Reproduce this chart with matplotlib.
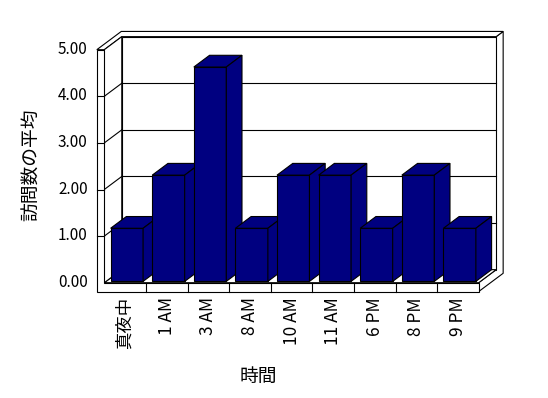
import matplotlib
matplotlib.use('Agg')
import matplotlib.pyplot as plt
from matplotlib.patches import Polygon

plt.rcParams['font.family'] = ['Noto Sans CJK JP', 'DejaVu Sans']

categories = ['真夜中', '1 AM', '3 AM', '8 AM', '10 AM', '11 AM', '6 PM', '8 PM', '9 PM']
visits_avg = [1.14, 2.28, 4.60, 1.14, 2.28, 2.28, 1.14, 2.28, 1.14]
y_ticks = [0, 1, 2, 3, 4, 5]
y_ticklabels = ['0.00', '1.00', '2.00', '3.00', '4.00', '5.00']

NAVY = '#000080'
# oblique "3D": shift for one full depth unit, in (category, value) units
DX, DY = 0.42, 0.28
WALL = 0.18      # left wall thickness
FLOOR = 0.19     # floor thickness
BACK = 1.4       # depth of the back face of the back wall
BAR_D0, BAR_D1 = 0.1, 1.0
BAR_W = 0.78
LW = 0.8

n = len(categories)
vmax = y_ticks[-1]


def P(x, v, d):
    return (x + d * DX, v + d * DY)


def face(ax, pts, fc='white', z=1):
    ax.add_patch(Polygon(pts, closed=True, fc=fc, ec='black', lw=LW,
                         zorder=z, joinstyle='miter'))


fig = plt.figure(figsize=(5.48, 3.98), dpi=100)
ax = fig.add_axes([0, 0, 1, 1])
# one category = 41.6 px, one value unit = 46.6 px
ax.set_xlim(-104.3 / 41.6, (548 - 104.3) / 41.6)
ax.set_ylim((282.7 - 398) / 46.6, 282.7 / 46.6)
ax.axis('off')

# ─── walls and floor ────────────────────────────────
face(ax, [P(n, 0, 0), P(n, 0, 1), P(n, vmax, 1), P(n, vmax, BACK),
          P(n, -FLOOR, BACK), P(n, -FLOOR, 0)], z=1)
face(ax, [P(-WALL, vmax, 0), P(0, vmax, 0), P(0, vmax, 1), P(n, vmax, 1),
          P(n, vmax, BACK), P(-WALL, vmax, BACK)], z=1)
face(ax, [P(0, 0, 1), P(n, 0, 1), P(n, vmax, 1), P(0, vmax, 1)], z=1)
face(ax, [P(0, 0, 0), P(n, 0, 0), P(n, 0, 1), P(0, 0, 1)], z=1)
face(ax, [P(0, 0, 0), P(0, 0, 1), P(0, vmax, 1), P(0, vmax, 0)], z=1)

for v in y_ticks[1:-1]:
    a, b = P(0, v, 1), P(n, v, 1)
    ax.plot([a[0], b[0]], [a[1], b[1]], color='black', lw=LW, zorder=2)
    a, b = P(0, v, 0), P(0, v, 1)
    ax.plot([a[0], b[0]], [a[1], b[1]], color='black', lw=LW, zorder=2)

# ─── bars ───────────────────────────────────────────
bars = ax.bar([i + 0.5 + BAR_D0 * DX for i in range(n)], visits_avg,
              width=BAR_W, bottom=BAR_D0 * DY, color=NAVY,
              edgecolor='black', linewidth=LW)
for i, (rect, val) in enumerate(zip(bars, visits_avg)):
    rect.set_zorder(5 + i)
    x0 = i + (1 - BAR_W) / 2
    x1 = x0 + BAR_W
    face(ax, [P(x0, val, BAR_D0), P(x1, val, BAR_D0),
              P(x1, val, BAR_D1), P(x0, val, BAR_D1)], fc=NAVY, z=5 + i)
    face(ax, [P(x1, 0, BAR_D0), P(x1, val, BAR_D0),
              P(x1, val, BAR_D1), P(x1, 0, BAR_D1)], fc=NAVY, z=5 + i)

# ─── front faces of floor + left wall ───────────────
face(ax, [(-WALL, -FLOOR), (n, -FLOOR), (n, 0), (0, 0), (0, vmax),
          (-WALL, vmax)], z=30)
for v in y_ticks[1:-1]:
    ax.plot([-WALL, 0], [v, v], color='black', lw=LW, zorder=31)
for i in range(1, n):
    ax.plot([i, i], [-FLOOR, 0], color='black', lw=LW, zorder=31)

# ─── labels ─────────────────────────────────────────
for v, lab in zip(y_ticks, y_ticklabels):
    ax.text(-WALL - 0.22, v + 0.01, lab, ha='right', va='center', fontsize=11)
for i, lab in enumerate(categories):
    ax.text(i + 0.5, -FLOOR - 0.12, lab, rotation=90, ha='center', va='top',
            fontsize=12.5)

fig.text(32 / 548, 1 - 165 / 398, '訪問数の平均', rotation=90,
         ha='center', va='center', fontsize=13.5)
fig.text(258 / 548, 1 - 376 / 398, '時間', ha='center', va='center',
         fontsize=13.5)

fig.savefig('out.png', dpi=100, facecolor='white')
